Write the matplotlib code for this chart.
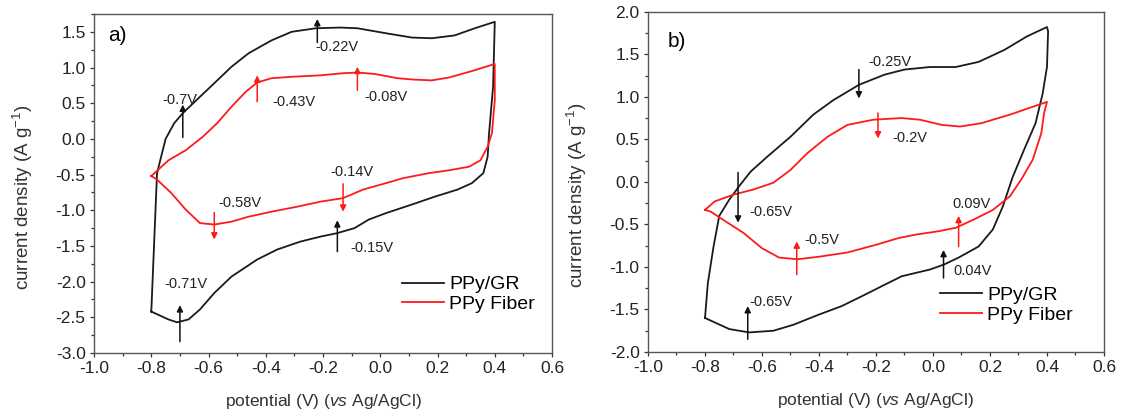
import matplotlib
matplotlib.use("Agg")
import matplotlib.pyplot as plt
from matplotlib.ticker import MultipleLocator, FormatStrFormatter

plt.rcParams['font.family'] = ['Liberation Sans', 'DejaVu Sans']
plt.rcParams['mathtext.fontset'] = 'custom'
plt.rcParams['mathtext.rm'] = 'Liberation Sans'
plt.rcParams['mathtext.it'] = 'Liberation Sans:italic'

# ---- panel a) data ----
a_gr_x = [-0.80, -0.78, -0.75, -0.72, -0.69, -0.63, -0.58, -0.52, -0.46, -0.38, -0.31, -0.225,
          -0.14, -0.08, 0.02, 0.11, 0.18, 0.26, 0.33, 0.40,
          0.394, 0.38, 0.375, 0.36, 0.32, 0.27, 0.19, 0.11, 0.02, -0.04, -0.09, -0.15, -0.21,
          -0.28, -0.36, -0.43, -0.52, -0.58, -0.63, -0.67, -0.71, -0.74, -0.80]
a_gr_y = [-2.42, -0.48, 0.00, 0.22, 0.36, 0.59, 0.78, 1.01, 1.20, 1.38, 1.50, 1.55,
          1.56, 1.55, 1.48, 1.42, 1.41, 1.45, 1.55, 1.64,
          0.73, 0.08, -0.25, -0.48, -0.62, -0.71, -0.81, -0.92, -1.04, -1.13, -1.25, -1.32, -1.37,
          -1.44, -1.55, -1.69, -1.93, -2.16, -2.39, -2.53, -2.57, -2.53, -2.42]

a_fib_x = [-0.80, -0.74, -0.68, -0.62, -0.57, -0.52, -0.47, -0.43, -0.38, -0.31, -0.21, -0.13,
           -0.08, -0.02, 0.06, 0.12, 0.18, 0.24, 0.32, 0.40,
           0.40, 0.39, 0.375, 0.35, 0.31, 0.24, 0.17, 0.08, 0.02, -0.06, -0.13, -0.21, -0.29,
           -0.38, -0.46, -0.52, -0.58, -0.63, -0.68, -0.73, -0.78, -0.80]
a_fib_y = [-0.52, -0.30, -0.16, 0.03, 0.22, 0.45, 0.66, 0.79, 0.85, 0.87, 0.89, 0.92,
           0.93, 0.91, 0.85, 0.83, 0.82, 0.86, 0.95, 1.05,
           0.54, 0.08, -0.11, -0.30, -0.39, -0.44, -0.48, -0.55, -0.62, -0.71, -0.83, -0.88, -0.95,
           -1.02, -1.09, -1.16, -1.20, -1.18, -0.99, -0.76, -0.57, -0.52]

# peak arrows: (x, tail y, head y, colour, label, label x, label y)
a_peaks = [
    (-0.22, 1.35, 1.68, 'k', '-0.22V', -0.15, 1.29),
    (-0.69, 0.02, 0.48, 'k', '-0.7V', -0.70, 0.55),
    (-0.43, 0.52, 0.89, 'r', '-0.43V', -0.30, 0.52),
    (-0.08, 0.68, 1.01, 'r', '-0.08V', 0.02, 0.59),
    (-0.13, -0.63, -1.02, 'r', '-0.14V', -0.10, -0.46),
    (-0.58, -1.03, -1.41, 'r', '-0.58V', -0.49, -0.90),
    (-0.15, -1.58, -1.14, 'k', '-0.15V', -0.03, -1.53),
    (-0.70, -2.84, -2.33, 'k', '-0.71V', -0.68, -2.04),
]

# ---- panel b) data ----
b_gr_x = [-0.80, -0.79, -0.77, -0.75, -0.715, -0.68, -0.64, -0.58, -0.50, -0.42, -0.35, -0.26,
          -0.17, -0.10, -0.01, 0.08, 0.16, 0.25, 0.33, 0.40,
          0.404, 0.40, 0.385, 0.36, 0.32, 0.28, 0.245, 0.21, 0.16, 0.09, 0.04, -0.01, -0.06,
          -0.11, -0.17, -0.235, -0.32, -0.40, -0.49, -0.56, -0.645, -0.715, -0.80]
b_gr_y = [-1.60, -1.19, -0.76, -0.40, -0.21, -0.05, 0.12, 0.30, 0.53, 0.79, 0.96, 1.14,
          1.26, 1.32, 1.35, 1.35, 1.41, 1.55, 1.71, 1.82,
          1.77, 1.35, 1.04, 0.69, 0.38, 0.06, -0.29, -0.56, -0.76, -0.89, -0.97, -1.03, -1.07,
          -1.11, -1.21, -1.32, -1.46, -1.56, -1.68, -1.75, -1.77, -1.73, -1.60]

b_fib_x = [-0.80, -0.766, -0.70, -0.63, -0.56, -0.50, -0.44, -0.37, -0.30, -0.21, -0.11, -0.045,
           0.03, 0.095, 0.17, 0.27, 0.40,
           0.39, 0.38, 0.35, 0.31, 0.27, 0.21, 0.145, 0.08, 0.02, -0.06, -0.12, -0.20, -0.30,
           -0.40, -0.475, -0.54, -0.60, -0.665, -0.73, -0.78, -0.80]
b_fib_y = [-0.33, -0.23, -0.15, -0.09, -0.01, 0.14, 0.34, 0.53, 0.67, 0.73, 0.75, 0.73,
           0.67, 0.65, 0.69, 0.79, 0.94,
           0.81, 0.57, 0.26, 0.03, -0.17, -0.33, -0.44, -0.54, -0.58, -0.62, -0.66, -0.74, -0.83,
           -0.88, -0.91, -0.89, -0.78, -0.60, -0.46, -0.35, -0.33]

b_peaks = [
    (-0.26, 1.32, 0.98, 'k', '-0.25V', -0.15, 1.41),
    (-0.193, 0.81, 0.51, 'r', '-0.2V', -0.08, 0.51),
    (-0.684, 0.11, -0.48, 'k', '-0.65V', -0.57, -0.36),
    (-0.478, -1.09, -0.70, 'r', '-0.5V', -0.39, -0.68),
    (0.09, -0.76, -0.40, 'r', '0.09V', 0.135, -0.26),
    (0.037, -1.13, -0.80, 'k', '0.04V', 0.14, -1.05),
    (-0.65, -1.85, -1.46, 'k', '-0.65V', -0.57, -1.41),
]

red = '#ff1a1a'

fig = plt.figure(figsize=(11.25, 4.15), dpi=100)
ax_a = fig.add_axes([0.0836, 0.1494, 0.4071, 0.8169])
ax_b = fig.add_axes([0.5760, 0.1518, 0.4053, 0.8200])


def draw_panel(ax, gr_x, gr_y, fib_x, fib_y, peaks, ylim, letter, letter_xy, leg_anchor):
    ax.plot(gr_x, gr_y, color='#1a1a1a', lw=1.3, label='PPy/GR')
    ax.plot(fib_x, fib_y, color=red, lw=1.3, label='PPy Fiber')
    for px, y0, y1, c, txt, tx, ty in peaks:
        col = '#111111' if c == 'k' else red
        ax.annotate('', xy=(px, y1), xytext=(px, y0),
                    arrowprops=dict(arrowstyle='-|>', color=col, lw=1.1,
                                    mutation_scale=9, shrinkA=0, shrinkB=0))
        ax.text(tx, ty, txt, fontsize=10.5, ha='center', va='center', color='#222222')
    ax.text(letter_xy[0], letter_xy[1], letter, fontsize=15, ha='center', va='center')
    ax.set_xlim(-1.0, 0.6)
    ax.set_ylim(*ylim)
    ax.xaxis.set_major_locator(MultipleLocator(0.2))
    ax.xaxis.set_minor_locator(MultipleLocator(0.1))
    ax.yaxis.set_major_locator(MultipleLocator(0.5))
    ax.yaxis.set_minor_locator(MultipleLocator(0.25))
    ax.xaxis.set_major_formatter(FormatStrFormatter('%.1f'))
    ax.yaxis.set_major_formatter(FormatStrFormatter('%.1f'))
    ax.tick_params(which='major', direction='out', length=3, width=0.9, pad=3,
                   labelsize=12.5, colors='#333333', labelcolor='#222222')
    ax.tick_params(which='minor', direction='out', length=2, width=0.9, colors='#333333')
    for s in ax.spines.values():
        s.set_color('#555555')
        s.set_linewidth(1.0)
    ax.set_xlabel(r'potential (V) ($\mathit{vs}$ Ag/AgCl)', fontsize=12.5, color='#333333')
    ax.set_ylabel(r'current density (A g$^{-1}$)', fontsize=13.5, color='#333333')
    ax.xaxis.set_label_coords(0.5, -0.115)
    ax.yaxis.set_label_coords(-0.13, 0.46)
    ax.legend(frameon=False, loc='upper left', bbox_to_anchor=leg_anchor, fontsize=14,
              handlelength=2.15, handletextpad=0.3, labelspacing=0.1, borderaxespad=0,
              borderpad=0)


draw_panel(ax_a, a_gr_x, a_gr_y, a_fib_x, a_fib_y, a_peaks, (-3.0, 1.75), 'a)', (-0.92, 1.45),
           (0.672, 0.228))
draw_panel(ax_b, b_gr_x, b_gr_y, b_fib_x, b_fib_y, b_peaks, (-2.0, 2.0), 'b)', (-0.9, 1.65),
           (0.64, 0.192))

fig.savefig('out.png', dpi=100)
